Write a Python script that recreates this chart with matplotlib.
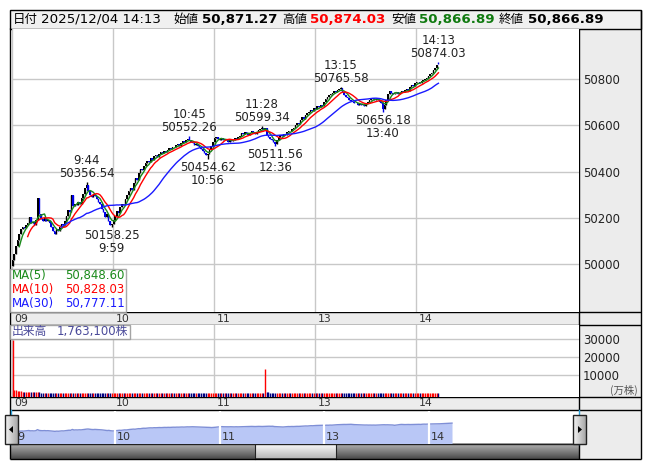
import numpy as np
import pandas as pd
import matplotlib
matplotlib.use("Agg")
import matplotlib.pyplot as plt
from matplotlib.patches import Rectangle, Polygon

plt.rcParams['font.family'] = ['DejaVu Sans', 'Noto Sans CJK JP']

# ---------------- data ----------------
open_first = 49992.0
close_am = [
    50018, 50045, 50080, 50102, 50128, 50150, 50162, 50155, 50170, 50178,
    50205, 50176, 50182, 50170, 50190, 50285, 50215, 50195, 50188, 50200,
    50185, 50192, 50178, 50160, 50145, 50132, 50150, 50142, 50160, 50175,
    50168, 50185, 50210, 50232, 50225, 50300, 50250, 50262, 50255, 50270,
    50262, 50285, 50305, 50328, 50340, 50318, 50300, 50290, 50305, 50296,
    50282, 50270, 50262, 50240, 50225, 50205, 50218, 50185, 50168, 50172,
    50190, 50210, 50228, 50220, 50245, 50262, 50255, 50280, 50300, 50315,
    50330, 50322, 50350, 50372, 50365, 50395, 50410, 50405, 50425, 50438,
    50445, 50440, 50458, 50452, 50466, 50472, 50465, 50478, 50485, 50480,
    50490, 50484, 50495, 50502, 50498, 50508, 50505, 50515, 50520, 50512,
    50525, 50532, 50528, 50536, 50540, 50535, 50530, 50522, 50516, 50520,
    50510, 50505, 50498, 50490, 50482, 50470, 50478, 50495, 50512, 50530,
    50545, 50552, 50540, 50538, 50545, 50536, 50542, 50535, 50530, 50540,
    50533, 50538, 50545, 50540, 50548, 50555, 50568, 50562, 50572, 50566,
    50560, 50568, 50575, 50570, 50565, 50572, 50580, 50585, 50590, 50582,
]
close_pm = [
    50588, 50560, 50548, 50542, 50535, 50528, 50520, 50535, 50548, 50560,
    50556, 50565, 50560, 50572, 50578, 50575, 50585, 50590, 50600, 50612,
    50608, 50625, 50635, 50630, 50645, 50655, 50660, 50668, 50662, 50675,
    50670, 50682, 50678, 50690, 50685, 50700, 50715, 50722, 50730, 50738,
    50742, 50748, 50745, 50752, 50756, 50760, 50745, 50732, 50725, 50718,
    50712, 50705, 50700, 50695, 50698, 50690, 50694, 50688, 50692, 50686,
    50695, 50702, 50708, 50715, 50720, 50712, 50716, 50708, 50702, 50698,
    50672, 50690, 50712, 50738, 50750, 50742, 50735, 50740, 50745, 50738,
    50742, 50748, 50745, 50752, 50758, 50750, 50768, 50775, 50770, 50782,
    50788, 50790, 50785, 50792, 50795, 50802, 50806, 50813, 50821, 50825,
    50838, 50850, 50863, 50866.89,
]
# volume per minute, 万株
vol_am = [
    29600, 1850, 1700, 1500, 1300, 1100, 950, 900, 800, 700,
    650, 600, 560, 520, 500, 480, 450, 430, 420, 400,
    390, 380, 370, 360, 380, 400, 350, 340, 330, 320,
    350, 340, 330, 360, 380, 320, 310, 300, 290, 300,
    320, 330, 360, 380, 340, 300, 290, 280, 300, 310,
    320, 330, 340, 360, 380, 350, 330, 360, 400, 380,
    350, 330, 320, 310, 300, 290, 300, 280, 270, 290,
    300, 310, 290, 280, 270, 260, 280, 270, 260, 250,
    260, 270, 250, 240, 250, 260, 240, 230, 250, 240,
    230, 220, 240, 230, 220, 230, 240, 220, 210, 230,
    220, 230, 240, 250, 260, 250, 240, 230, 240, 250,
    260, 270, 280, 290, 300, 310, 290, 270, 260, 250,
    240, 230, 220, 210, 220, 200, 210, 200, 190, 200,
    210, 200, 190, 200, 210, 220, 210, 200, 190, 200,
    210, 200, 210, 220, 230, 240, 250, 240, 230, 300,
]
vol_pm = [
    13500, 600, 450, 400, 380, 360, 350, 340, 300, 280,
    270, 260, 250, 240, 230, 240, 250, 240, 230, 240,
    250, 260, 250, 240, 230, 240, 250, 260, 270, 260,
    250, 240, 250, 260, 270, 280, 290, 300, 280, 260,
    250, 240, 230, 220, 230, 220, 210, 220, 210, 200,
    210, 200, 190, 200, 210, 200, 190, 180, 190, 200,
    210, 220, 210, 200, 190, 200, 210, 220, 230, 250,
    280, 260, 240, 230, 220, 210, 200, 210, 200, 190,
    200, 210, 220, 230, 240, 230, 220, 230, 240, 250,
    240, 230, 240, 250, 260, 250, 240, 230, 220, 210,
    200, 190, 180, 176,
]
# marked highs / lows: (minute index from 9:00, price, kind, time label)
extremes = [
    (44, 50356.54, 'high', '9:44'),
    (59, 50158.25, 'low', '9:59'),
    (105, 50552.26, 'high', '10:45'),
    (116, 50454.62, 'low', '10:56'),
    (148, 50599.34, 'high', '11:28'),
    (156, 50511.56, 'low', '12:36'),
    (195, 50765.58, 'high', '13:15'),
    (220, 50656.18, 'low', '13:40'),
    (253, 50874.03, 'high', '14:13'),
]
last_bar = {'open': 50871.27, 'high': 50874.03, 'low': 50866.89, 'close': 50866.89}
header_date = '2025/12/04 14:13'
hour_ticks = [0, 60, 120, 180, 240]
hour_labels = ['09', '10', '11', '13', '14']
nav_labels = ['9', '10', '11', '13', '14']
price_ticks = [50000, 50200, 50400, 50600, 50800]
vol_ticks = [10000, 20000, 30000]
ma_windows = [5, 10, 30]
ma_names = ['MA(5)', 'MA(10)', 'MA(30)']
ma_texts = ['50,848.60', '50,828.03', '50,777.11']
ma_colors = ['#1a8a1a', '#ff0000', '#1a1aff']
volume_text = '1,763,100株'

# ---------------- derived series ----------------
close = np.array(close_am + close_pm, dtype=float)
vol = np.array(vol_am + vol_pm, dtype=float)
n = len(close)
t = np.arange(n) + 0.5
opens = np.r_[open_first, close[:-1]]
opens[-1] = last_bar['open']
highs = np.maximum(opens, close)
lows = np.minimum(opens, close)
for i, p, kind, lab in extremes:
    if kind == 'high':
        highs[i] = max(highs[i], p)
    else:
        lows[i] = min(lows[i], p)
lows[-1] = min(lows[-1], last_bar['low'])
up = close >= opens

# ---------------- layout (pixels) ----------------
W, H = 653, 470
fig = plt.figure(figsize=(W / 100, H / 100), dpi=100)
fig.patch.set_facecolor('white')

def frect(x0, y0, x1, y1):
    return [x0 / W, 1 - y1 / H, (x1 - x0) / W, (y1 - y0) / H]

PX0, PX1, RX = 11.7, 579.3, 641.0
PY0, PY1 = 29.0, 312.3
VY0, VY1 = 325.0, 396.7
NY0, NY1 = 410.0, 444.0
BOT = 459.3
MINPX = 101.0 / 60.0
GRID = '#c8c8c8'
GRAY = '#ececec'

bg = fig.add_axes([0, 0, 1, 1], zorder=0)
bg.axis('off')

def grad_rect(x0, y0, x1, y1, top, bottom, z=1):
    c0 = np.array(matplotlib.colors.to_rgb(top))
    c1 = np.array(matplotlib.colors.to_rgb(bottom))
    k = np.linspace(0, 1, 32)[:, None]
    img = (c0 * (1 - k) + c1 * k)[:, None, :]
    bg.imshow(img, extent=(x0, x1, y1, y0), aspect='auto', origin='upper', zorder=z,
              interpolation='bilinear')

# gray areas
bg.add_patch(Rectangle((PX1, PY0), RX - PX1, NY0 - PY0, fc=GRAY, ec='none', zorder=1))
bg.add_patch(Rectangle((10, PY1), RX - 10, VY0 - PY1, fc=GRAY, ec='none', zorder=1))
bg.add_patch(Rectangle((10, VY1), RX - 10, NY0 - VY1, fc=GRAY, ec='none', zorder=1))
bg.add_patch(Rectangle((PX1, NY0), RX - PX1, BOT - NY0, fc=GRAY, ec='none', zorder=1))
# scrollbar
grad_rect(10, NY1, PX1, BOT, '#b8b8b8', '#4a4a4a', z=2)
grad_rect(255, NY1 + 1, 336, BOT - 1, '#fafafa', '#b8b8b8', z=3)
bg.plot([255, 255], [NY1, BOT], color='#222', lw=0.8, zorder=4)
bg.plot([336, 336], [NY1, BOT], color='#222', lw=0.8, zorder=4)
bg.plot([10, PX1], [NY1, NY1], color='#222', lw=1, zorder=4)
# header
bg.add_patch(Rectangle((10, 10), RX - 10, 18.5, fc='#f0f0f0', ec='black', lw=1, zorder=2))
# frame lines
for (xa, xb, ya, yb) in [(10, 10, 28, BOT), (RX, RX, 10, BOT), (10, RX, BOT, BOT),
                         (10, RX, PY1, PY1), (10, RX, VY0, VY0), (10, RX, VY1, VY1),
                         (10, RX, NY0, NY0), (PX1, PX1, PY0, NY0), (PX1, PX1, NY1, BOT)]:
    bg.plot([xa, xb], [ya, yb], color='black', lw=1, zorder=5, solid_capstyle='butt')
bg.plot([PX1, PX1], [NY0, NY1], color='#2aa0d8', lw=1, zorder=5)
bg.plot([10.5, 10.5], [NY0, NY1], color='#2aa0d8', lw=1, zorder=5)

# header texts
hy = 19.5
hdr = [(13, '日付', 'normal', '#000000', 9.0),
       (41, header_date, 'normal', '#000000', 9.6),
       (173, '始値', 'normal', '#000000', 9.0),
       (202, '50,871.27', 'bold', '#000000', 9.6),
       (282, '高値', 'normal', '#000000', 9.0),
       (310, '50,874.03', 'bold', '#ff0000', 9.6),
       (391, '安値', 'normal', '#000000', 9.0),
       (419, '50,866.89', 'bold', '#107a10', 9.6),
       (499, '終値', 'normal', '#000000', 9.0),
       (528, '50,866.89', 'bold', '#000000', 9.6)]
for x, s, w, c, fs in hdr:
    bg.text(x, hy, s, ha='left', va='center', fontsize=fs, fontweight=w, color=c, zorder=6)

bg.set_xlim(0, W)
bg.set_ylim(H, 0)

# ---------------- price panel ----------------
ax = fig.add_axes(frect(PX0, PY0, PX1, PY1), zorder=2)
ax.set_xlim(0, (PX1 - PX0) / MINPX)
ax.set_ylim(49791, 51017.5)
ax.set_xticks(hour_ticks)
ax.set_yticks(price_ticks)
ax.set_yticklabels([str(v) for v in price_ticks])
ax.yaxis.tick_right()
ax.tick_params(axis='y', length=0, pad=2.5, labelsize=8.5, labelcolor='#222222')
ax.tick_params(axis='x', length=0, labelbottom=False)
ax.grid(True, color=GRID, lw=1)
ax.set_axisbelow(True)
for s in ax.spines.values():
    s.set_visible(False)

cols = np.where(up, '#000000', '#0000e6')
ax.vlines(t, lows, highs, colors=cols, lw=1.0, zorder=3)
body_h = np.maximum(np.abs(close - opens), 2.0)
ax.bar(t, body_h, bottom=np.minimum(close, opens), width=0.95, color=cols, lw=0, zorder=3)
for w_, c_ in zip(ma_windows, ma_colors):
    ma = pd.Series(close).rolling(w_).mean()
    ax.plot(t, ma, color=c_, lw=1.0, zorder=4)

for i, p, kind, lab in extremes:
    if kind == 'high':
        ax.annotate(f'{lab}\n{p:.2f}', xy=(i + 0.5, p), xytext=(0, 2), textcoords='offset pixels',
                    ha='center', va='bottom', fontsize=8.5, color='#222222', linespacing=1.0,
                    multialignment='center', zorder=5)
    else:
        ax.annotate(f'{p:.2f}\n{lab}', xy=(i + 0.5, p), xytext=(0, -2), textcoords='offset pixels',
                    ha='center', va='top', fontsize=8.5, color='#222222', linespacing=1.0,
                    multialignment='center', zorder=5)

for tt, lab in zip(hour_ticks, hour_labels):
    ax.annotate(lab, xy=(tt, 0), xycoords=ax.get_xaxis_transform(), xytext=(3, -6.3),
                textcoords='offset pixels', ha='left', va='center', fontsize=7.8,
                color='#333333', annotation_clip=False)

# legend boxes
bg2 = fig.add_axes([0, 0, 1, 1], zorder=6)
bg2.axis('off')
bg2.add_patch(Rectangle((10, 269.3), 116, 42.5, fc='white', ec='#9a9a9a', lw=1, alpha=0.85))
for k, (nm, tx, c_) in enumerate(zip(ma_names, ma_texts, ma_colors)):
    yy = 275.5 + 14 * k
    bg2.text(12, yy, nm, ha='left', va='center', fontsize=8.5, color=c_)
    bg2.text(124.5, yy, tx, ha='right', va='center', fontsize=8.5, color=c_)
bg2.add_patch(Rectangle((10, VY0), 120, 13.5, fc='white', ec='#9a9a9a', lw=1, alpha=0.9))
bg2.text(12, VY0 + 7, '出来高', ha='left', va='center', fontsize=8.5, color='#4a4a9a',
         family=['Noto Sans CJK JP'])
bg2.text(128.5, VY0 + 7, volume_text, ha='right', va='center', fontsize=8.5, color='#4a4a9a')
bg2.text(638, 390, '(万株)', ha='right', va='center', fontsize=7.5, color='#555555',
         family=['Noto Sans CJK JP'])
bg2.set_xlim(0, W)
bg2.set_ylim(H, 0)

# ---------------- volume panel ----------------
vx = fig.add_axes(frect(PX0, VY0, PX1, VY1), zorder=2)
vx.set_xlim(0, (PX1 - PX0) / MINPX)
vy0 = -1900
vx.set_ylim(vy0, 37950)
vx.set_xticks(hour_ticks)
vx.set_yticks(vol_ticks)
vx.set_yticklabels([str(v) for v in vol_ticks])
vx.yaxis.tick_right()
vx.tick_params(axis='y', length=0, pad=2.5, labelsize=8.5, labelcolor='#222222')
vx.tick_params(axis='x', length=0, labelbottom=False)
vx.grid(True, color=GRID, lw=1)
vx.set_axisbelow(True)
for s in vx.spines.values():
    s.set_visible(False)
vcols = np.where(up, '#ff0000', '#000080')
vx.vlines(t, vy0, vol, colors=vcols, lw=1.0, zorder=3)
for tt, lab in zip(hour_ticks, hour_labels):
    vx.annotate(lab, xy=(tt, 0), xycoords=vx.get_xaxis_transform(), xytext=(3, -6.5),
                textcoords='offset pixels', ha='left', va='center', fontsize=7.8,
                color='#333333', annotation_clip=False)

# ---------------- navigator ----------------
nx = fig.add_axes(frect(10.5, NY0 + 0.5, PX1, NY1 - 0.5), zorder=2)
nx.set_xlim(0, (PX1 - 10.5) / (104.5 / 60.0))
ny0 = 49046
nx.set_ylim(ny0, 51994)
nx.axis('off')
nx.fill_between(t, ny0, close, color='#b9c7f6', lw=0)
nx.plot(t, close, color='#7f8fd6', lw=1.0)
for tt, lab in zip(hour_ticks, nav_labels):
    if tt > 0:
        nx.axvline(tt, color='white', lw=1.6)
    dx = 7 if tt == 0 else 2
    nx.annotate(lab, xy=(tt, ny0), xytext=(dx, 1), textcoords='offset pixels',
                ha='left', va='bottom', fontsize=8, color='#333333', zorder=10)

# navigator buttons
bx = fig.add_axes([0, 0, 1, 1], zorder=7)
bx.axis('off')
for x0 in (4.5, 573):
    k = np.linspace(0, 1, 16)[None, :, None]
    c0 = np.array(matplotlib.colors.to_rgb('#f4f4f4'))
    c1 = np.array(matplotlib.colors.to_rgb('#a8a8a8'))
    img = c0 * (1 - k) + c1 * k
    bx.imshow(img, extent=(x0, x0 + 13, 444, 415), aspect='auto', origin='upper')
    bx.add_patch(Rectangle((x0, 415), 13, 29, fc='none', ec='#222', lw=1))
bx.add_patch(Polygon([[13, 426], [13, 433], [9, 429.5]], closed=True, fc='black', ec='none'))
bx.add_patch(Polygon([[578, 426], [578, 433], [582, 429.5]], closed=True, fc='black', ec='none'))
bx.set_xlim(0, W)
bx.set_ylim(H, 0)

fig.savefig('out.png', dpi=100, facecolor='white')
